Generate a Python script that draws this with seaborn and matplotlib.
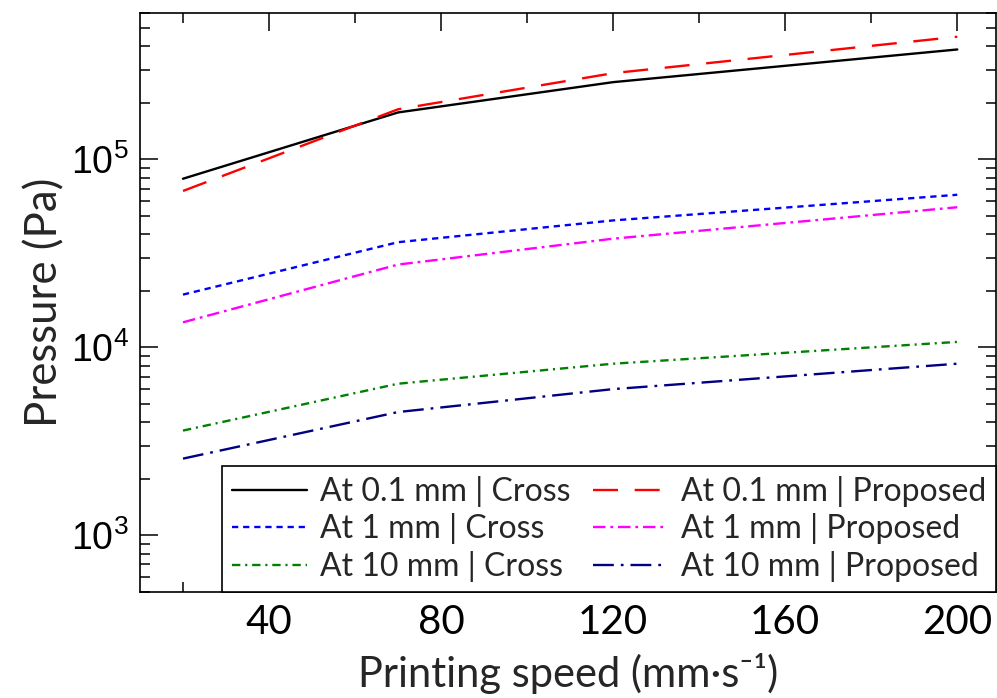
import matplotlib
matplotlib.use("Agg")
import matplotlib.pyplot as plt
import seaborn as sns
import pandas as pd
from matplotlib.ticker import MultipleLocator, LogLocator, NullFormatter

# Printing speed (mm/s)
speed = [20, 70, 120, 200]

# Pressure (Pa) at three distances, cross-section model vs proposed model
cross_01 = [7.9e4, 1.78e5, 2.58e5, 3.85e5]
prop_01 = [6.8e4, 1.85e5, 2.88e5, 4.5e5]
cross_1 = [1.91e4, 3.63e4, 4.74e4, 6.49e4]
prop_1 = [1.36e4, 2.76e4, 3.79e4, 5.57e4]
cross_10 = [3.61e3, 6.41e3, 8.19e3, 1.07e4]
prop_10 = [2.56e3, 4.53e3, 6.0e3, 8.19e3]

labels = [
    "At 0.1 mm | Cross", "At 1 mm | Cross", "At 10 mm | Cross",
    "At 0.1 mm | Proposed", "At 1 mm | Proposed", "At 10 mm | Proposed",
]
series = [cross_01, cross_1, cross_10, prop_01, prop_1, prop_10]
colors = ["#000000", "#0000ff", "#008000", "#ff0000", "#ff00ff", "#000080"]
styles = [
    "-",
    (0, (4.5, 3.5)),
    (0, (6, 3.5, 1.5, 3.5)),
    (0, (18, 12)),
    (0, (9, 3.5, 2, 3.5)),
    (0, (15, 5, 2, 5)),
]

sns.set_theme(style="ticks")
plt.rcParams["font.family"] = ["Lato", "DejaVu Sans"]
plt.rcParams["lines.scale_dashes"] = False

fig = plt.figure(figsize=(9.97, 6.98), dpi=100)
ax = fig.add_axes([0.1404, 0.152, 0.8586, 0.829])

for lab, vals, col, ls in zip(labels, series, colors, styles):
    df = pd.DataFrame({"speed": speed, "pressure": vals})
    sns.lineplot(data=df, x="speed", y="pressure", ax=ax, color=col,
                 linestyle=ls, linewidth=1.7, label=lab)

ax.set_yscale("log")
ax.set_xlim(10, 209)
ax.set_ylim(500, 6e5)

ax.xaxis.set_major_locator(MultipleLocator(40))
ax.xaxis.set_minor_locator(MultipleLocator(20))
ax.yaxis.set_major_locator(LogLocator(base=10, numticks=10))
ax.yaxis.set_minor_locator(LogLocator(base=10, subs=range(2, 10), numticks=10))
ax.yaxis.set_minor_formatter(NullFormatter())

ax.tick_params(which="both", direction="in", top=True, right=True,
               width=1.1, colors="black")
ax.tick_params(which="major", length=13)
ax.tick_params(which="minor", length=7)
ax.tick_params(axis="x", which="major", labelsize=29, pad=9)
ax.tick_params(axis="y", which="major", labelsize=27, pad=8,
               labelfontfamily="Liberation Sans")
for s in ax.spines.values():
    s.set_linewidth(1.2)
    s.set_color("black")

ax.set_xlabel("Printing speed (mm·s⁻¹)", fontsize=30, labelpad=8)
ax.set_ylabel("Pressure (Pa)", fontsize=31.5, labelpad=4)

leg = ax.legend(loc="lower right", ncol=2, fontsize=23, frameon=True,
                fancybox=False, framealpha=1, edgecolor="black",
                borderaxespad=0, handlelength=2.35, columnspacing=0.7,
                labelspacing=0.2, handletextpad=0.4, borderpad=0.32)
leg.get_frame().set_linewidth(1.2)

fig.savefig("out.png", dpi=100)
